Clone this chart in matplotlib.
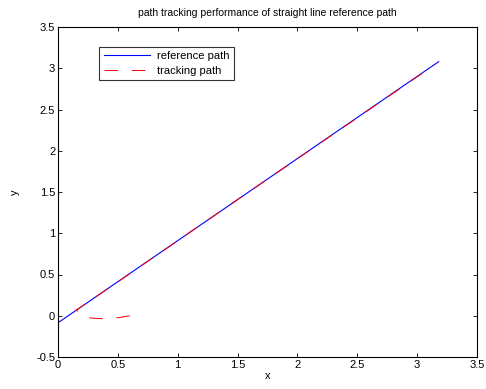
import numpy as np
import matplotlib.pyplot as plt

plt.rcParams['font.family'] = ['Liberation Sans', 'DejaVu Sans']

# reference path (straight line)
ref_x = [0.0, 3.18]
ref_y = [-0.085, 3.08]

# tracking path: starts off the line, curls round and joins it
track_x = [0.60, 0.52, 0.45, 0.38, 0.31, 0.26, 0.22, 0.19, 0.17, 0.155, 0.15, 0.20, 0.60, 1.20, 1.80, 2.40, 3.05]
track_y = [0.00, -0.02, -0.03, -0.035, -0.032, -0.025, -0.012, 0.01, 0.04, 0.07, 0.065, 0.115, 0.51, 1.11, 1.705, 2.30, 2.945]

fig = plt.figure(figsize=(4.86, 3.89), dpi=100)
ax = fig.add_axes([58 / 486, 32 / 389, 419 / 486, 330 / 389])

ax.plot(ref_x, ref_y, color='blue', lw=0.8, label='reference path', zorder=2)
ax.plot(track_x, track_y, color='red', lw=0.7, linestyle=(0, (14, 14)), label='tracking path', zorder=3)

ax.set_xlim(0, 3.5)
ax.set_ylim(-0.5, 3.5)
ax.set_xticks(np.arange(0, 3.51, 0.5))
ax.set_yticks(np.arange(-0.5, 3.51, 0.5))
ax.set_xticklabels(['0', '0.5', '1', '1.5', '2', '2.5', '3', '3.5'])
ax.set_yticklabels(['-0.5', '0', '0.5', '1', '1.5', '2', '2.5', '3', '3.5'])
ax.tick_params(direction='in', top=True, right=True, labelsize=8, length=3, width=0.6, pad=2)
for s in ax.spines.values():
    s.set_linewidth(0.8)

ax.set_xlabel('x', fontsize=8, labelpad=1)
ax.set_ylabel('y', fontsize=8, labelpad=12)
ax.set_title('path tracking performance of straight line reference path', fontsize=7.5, pad=8)

leg = ax.legend(loc='upper left', bbox_to_anchor=(0.085, 0.957),
                fontsize=8, frameon=True, fancybox=False, edgecolor='black',
                handlelength=4.2, borderpad=0.4, labelspacing=0.4, handletextpad=0.6)
leg.get_frame().set_linewidth(0.8)

fig.savefig('out.png', dpi=100)
